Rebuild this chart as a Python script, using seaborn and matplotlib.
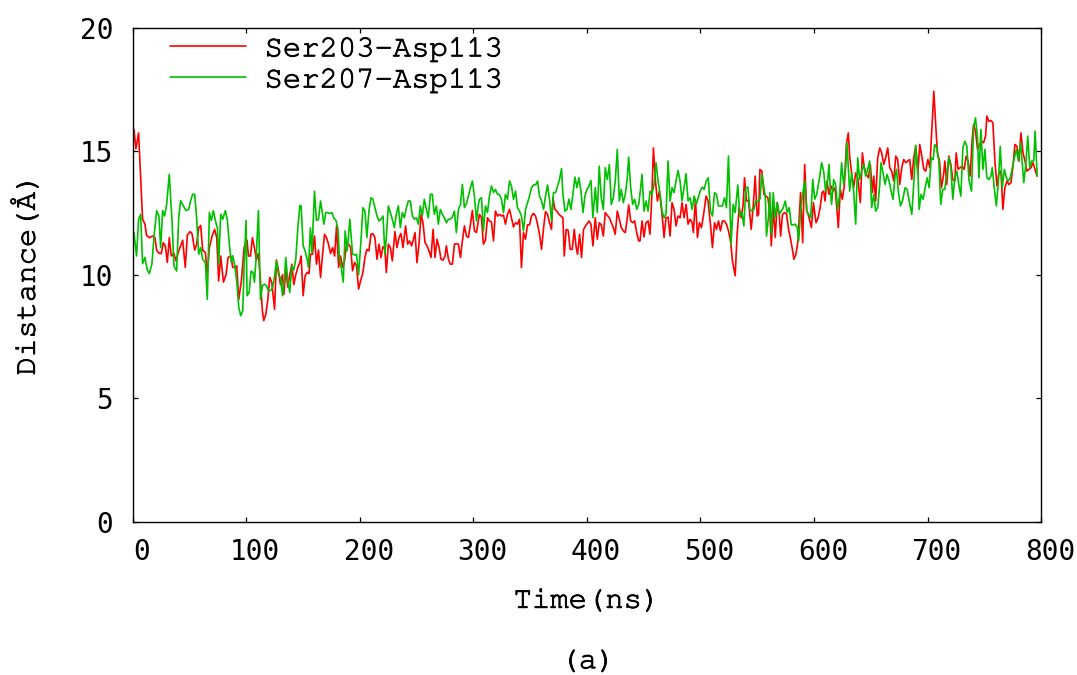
import numpy as np
import pandas as pd
import matplotlib
matplotlib.use("Agg")
import matplotlib.pyplot as plt
import matplotlib.transforms as mtransforms
import matplotlib.patheffects as pe
import seaborn as sns

# values (time in ns, distance in Angstrom)
red_time = [
    0, 1.2, 2.9, 5.3, 7.1, 8.8, 10.9, 12.3, 14.7, 17.6, 19.7, 21.2, 23.2, 25.3, 27.0, 28.8, 30.6, 32.3, 34.1, 36.4,
    38.2, 40.6, 42.3, 44.1, 46.4, 48.2, 50.6, 52.3, 54.7, 56.4, 58.2, 60.0, 61.7, 64.1, 65.8, 67.6, 70.0, 72.3, 74.1,
    75.8, 77.6, 80.0, 82.3, 84.1, 86.4, 88.2, 90.5, 91.7, 93.5, 95.8, 98.2,
    100.8, 102.0, 103.8, 105.5, 107.3, 109.0, 110.8, 112.6, 114.3, 115.5, 117.3, 119.0, 120.8, 122.6, 123.7, 125.0,
    126.7, 128.5, 130.2, 132.0, 133.2, 134.9, 136.7, 138.4, 140.2, 142.0, 143.7, 145.5, 147.3, 148.4, 150.2, 151.9,
    153.7, 155.4, 156.6, 158.4, 160.2, 161.9, 163.7, 165.5, 167.3, 169.0, 170.8, 172.5, 174.3, 176.1, 177.9, 179.6,
    181.4, 183.1, 184.9, 186.6, 188.4, 190.2, 192.0, 193.7, 195.5, 197.2, 199.0,
    201.1, 202.8, 204.6, 206.3, 208.1, 209.9, 211.6, 213.4, 215.2, 217.0, 218.7, 220.5, 222.2, 223.4, 225.2, 227.0,
    228.7, 231.0, 232.8, 234.6, 236.3, 238.1, 240.4, 242.2, 243.9, 245.7, 246.9, 248.7, 250.4, 252.2, 254.0, 255.7,
    257.5, 259.3, 261.0, 262.8, 264.6, 266.3, 268.1, 269.9, 271.6, 273.4, 275.1, 276.3, 278.1, 279.8, 281.6, 283.4,
    285.1, 286.9, 288.7, 290.4, 292.2, 294.0, 295.7, 297.5, 299.2, 301.0, 302.8, 304.5,
    305.4, 307.2, 308.9, 310.7, 312.5, 314.2, 316.0, 317.8, 319.5, 321.3, 323.0, 324.8, 326.6, 328.3, 330.1, 331.9,
    333.6, 335.4, 337.2, 338.9, 340.7, 342.4, 344.2, 346.0, 347.7, 349.5, 351.3, 353.0, 354.8, 356.6, 358.3, 360.1,
    361.9, 363.6, 365.4, 367.1, 368.9, 370.1, 371.8, 373.6, 375.4, 377.1, 378.9, 380.1, 381.8, 383.6, 385.3, 387.1,
    388.9, 390.6, 391.8, 393.6, 395.3, 397.1, 398.8, 400.0, 401.8, 403.6, 405.3,
    407.4, 409.2, 410.9, 412.7, 414.5, 416.2, 418.0, 419.8, 421.5, 423.3, 425.0, 426.8, 428.6, 430.3, 432.1, 433.9,
    435.6, 436.8, 438.6, 440.3, 442.1, 443.9, 445.6, 446.8, 448.6, 450.3, 452.1, 453.9, 455.6, 457.4, 458.6, 460.4,
    462.1, 463.9, 466.2, 468.0, 469.7, 471.5, 473.3, 475.0, 476.8, 478.5, 480.3, 482.1, 483.8, 485.6, 487.4, 489.1,
    490.9, 492.7, 493.8, 495.6, 497.4, 499.1, 500.9, 502.6, 505.0, 506.7,
    508.8, 510.6, 512.4, 514.1, 515.9, 517.6, 519.4, 521.2, 522.9, 524.7, 526.5, 528.2, 530.6, 532.3, 534.1, 535.9,
    537.6, 538.8, 540.6, 542.3, 544.7, 546.5, 548.2, 550.0, 551.2, 552.4, 554.1, 555.9, 557.7, 559.4, 561.2, 562.4,
    564.1, 565.9, 567.6, 569.4, 570.6, 572.3, 574.1, 575.9, 577.6, 579.4, 581.2, 582.3, 584.1, 585.9, 588.2, 590.0,
    591.8, 593.6, 595.3, 597.7, 599.5, 601.8, 603.6, 605.4, 607.1,
    608.5, 609.7, 611.4, 613.2, 614.9, 616.7, 618.5, 620.2, 621.4, 623.2, 624.9, 626.7, 628.5, 630.2, 631.4, 633.2,
    634.9, 636.7, 638.5, 640.8, 642.6, 644.3, 646.1, 647.9, 649.6, 651.4, 652.6, 654.3, 656.1, 657.9, 659.6, 661.4,
    663.1, 664.9, 666.7, 668.4, 670.2, 672.0, 673.7, 675.5, 677.3, 679.0, 680.8, 682.6, 684.3, 686.1, 687.8, 689.6,
    691.4, 693.1, 694.9, 696.7, 698.4, 700.2, 702.0, 703.7, 705.5,
    707.5, 708.7, 710.5, 712.2, 714.0, 715.2, 716.9, 718.7, 720.5, 722.2, 724.0, 725.2, 726.9, 728.7, 730.5, 732.2,
    734.0, 735.7, 737.5, 739.3, 740.5, 742.2, 744.0, 745.8, 747.5, 749.3, 751.1, 752.2, 754.0, 755.8, 757.5, 759.3,
    761.1, 762.8, 764.6, 766.3, 768.1, 769.9, 771.6, 773.4, 775.2, 776.9, 778.7, 780.5, 782.2, 784.0, 785.8, 787.5,
    789.3, 791.1, 792.8, 794.6, 796.4,
]
red_dist = [
    14.9, 15.9, 15.1, 15.75, 13.9, 12.25, 12.05, 11.6, 11.5, 11.57, 11.5, 11.0, 10.87, 10.86, 11.3, 11.17, 10.5, 11.5,
    10.76, 10.87, 10.56, 10.97, 11.17, 11.4, 10.3, 11.6, 11.75, 11.67, 11.0, 11.24, 11.9, 12.0, 11.0, 10.9, 10.0, 11.1,
    11.57, 11.84, 11.5, 9.75, 10.76, 9.7, 10.0, 10.7, 10.76, 10.3, 10.3, 10.36, 9.0, 9.75, 11.1,
    11.4, 10.76, 10.76, 11.5, 11.1, 10.6, 10.86, 9.75, 8.54, 8.14, 8.4, 8.95, 9.89, 9.69, 9.2, 8.6, 10.6, 10.16, 9.6,
    10.0, 9.2, 10.2, 9.5, 10.0, 10.43, 9.6, 10.0, 10.3, 10.5, 10.76, 9.15, 9.95, 10.1, 10.05, 10.83, 10.83, 11.57,
    10.43, 11.0, 9.89, 10.83, 11.64, 11.5, 11.24, 10.86, 11.1, 10.76, 11.98, 10.3, 10.76, 10.3, 10.56, 11.24, 11.24,
    11.1, 10.16, 10.5, 10.36, 9.42,
    9.82, 10.09, 10.70, 11.03, 10.97, 11.64, 11.67, 11.51, 10.63, 11.24, 10.70, 11.14, 11.03, 10.09, 11.24, 11.10,
    10.56, 11.75, 11.10, 11.51, 11.67, 11.10, 11.98, 11.24, 11.37, 11.17, 11.37, 11.71, 10.49, 11.24, 12.45, 12.11,
    11.30, 11.17, 10.97, 10.70, 11.84, 10.70, 11.44, 11.10, 10.63, 10.59, 10.76, 11.17, 10.63, 10.43, 10.43, 11.24,
    11.26, 11.24, 10.70, 11.37, 11.98, 11.57, 11.51, 12.05, 12.61, 11.78, 11.71, 12.18,
    12.45, 12.31, 11.24, 11.40, 12.31, 12.18, 12.14, 11.37, 12.58, 12.38, 12.45, 12.38, 12.42, 12.05, 12.45, 12.65,
    12.31, 11.94, 12.11, 12.05, 12.25, 10.29, 11.71, 11.44, 12.02, 12.02, 12.38, 12.49, 12.38, 12.05, 11.64, 11.03,
    11.91, 12.56, 12.45, 12.11, 11.84, 13.12, 12.65, 12.58, 12.45, 12.38, 12.31, 10.76, 11.84, 11.80, 11.03, 11.03,
    11.84, 11.10, 10.83, 11.64, 10.70, 11.84, 11.98, 12.05, 12.18, 12.05, 11.17,
    12.31, 11.44, 12.11, 12.02, 11.57, 12.52, 12.41, 12.31, 12.11, 11.91, 11.64, 12.58, 12.25, 11.91, 11.78, 11.71,
    12.31, 12.83, 12.18, 12.11, 12.18, 11.71, 11.37, 11.37, 12.18, 11.53, 12.11, 12.18, 11.64, 13.39, 15.14, 13.80,
    12.99, 13.39, 12.45, 11.51, 12.31, 12.34, 11.57, 12.92, 12.65, 11.98, 12.38, 12.31, 12.92, 12.31, 12.85, 12.05,
    12.25, 12.11, 11.71, 13.06, 11.51, 12.11, 11.91, 12.38, 13.19, 12.99,
    12.05, 11.10, 12.11, 11.84, 12.18, 11.78, 12.18, 12.18, 12.05, 11.78, 11.37, 10.56, 9.96, 11.64, 12.72, 12.31,
    12.85, 13.93, 12.99, 13.01, 11.84, 12.79, 14.00, 12.38, 12.45, 14.27, 14.20, 13.26, 13.19, 13.12, 12.45, 11.17,
    12.72, 11.51, 12.92, 12.45, 11.57, 12.45, 12.52, 12.45, 11.84, 11.44, 10.97, 10.63, 10.83, 11.37, 13.33, 11.30,
    14.47, 12.58, 12.38, 11.91, 12.92, 12.11, 12.31, 12.72, 13.33,
    13.39, 12.99, 13.80, 13.26, 13.60, 13.39, 13.53, 12.65, 11.91, 13.46, 13.06, 13.60, 15.28, 15.75, 14.81, 14.07,
    13.53, 14.13, 13.93, 12.92, 14.94, 14.34, 14.07, 13.93, 14.47, 13.33, 14.00, 12.99, 14.74, 15.14, 14.94, 14.47,
    14.74, 15.14, 14.34, 14.20, 13.80, 14.81, 14.67, 13.66, 14.34, 14.67, 14.54, 14.61, 14.67, 13.86, 14.74, 15.21,
    14.07, 15.28, 14.81, 14.27, 14.20, 14.67, 14.34, 15.82, 17.44,
    15.82, 14.94, 14.61, 13.53, 14.00, 14.61, 13.66, 14.81, 14.47, 13.86, 13.80, 14.94, 14.27, 14.34, 14.40, 14.27,
    14.81, 14.61, 14.00, 15.48, 16.09, 15.82, 15.08, 15.28, 15.41, 15.35, 15.62, 16.43, 16.22, 16.25, 16.16, 14.61,
    13.60, 14.13, 14.20, 12.65, 13.53, 13.80, 13.66, 13.73, 14.40, 15.28, 15.21, 14.61, 15.75, 14.94, 14.61, 14.20,
    14.27, 14.34, 14.54, 14.27, 14.00,
]

green_time = [
    0, 1.2, 3.5, 5.3, 7.1, 8.8, 10.9, 12.9, 14.7, 17.0, 18.8, 21.2, 23.2, 24.7, 26.5, 28.2, 30.0, 32.3, 34.7, 36.4,
    38.8, 40.6, 42.3, 44.7, 47.0, 49.4, 51.1, 52.9, 54.7, 56.4, 58.2, 60.0, 61.7, 64.1, 65.8, 67.6, 69.4, 71.1, 72.9,
    74.7, 75.8, 77.6, 79.4, 81.7, 83.5, 85.3, 87.0, 88.2, 90.0, 91.7, 93.5, 95.2, 97.0, 98.2, 99.9,
    100.8, 102.6, 104.4, 106.1, 107.3, 109.0, 110.8, 112.6, 114.3, 116.1, 117.9, 119.6, 121.4, 123.2, 124.9, 126.7,
    128.5, 130.2, 132.0, 133.7, 134.9, 136.7, 138.4, 140.2, 142.0, 143.7, 145.5, 147.3, 148.4, 150.2, 151.9, 153.7,
    154.9, 156.6, 157.9, 160.2, 161.9, 163.7, 165.5, 167.3, 168.4, 170.2, 172.0, 173.7, 175.5, 177.3, 179.1, 180.9,
    182.1, 183.9, 185.5, 187.2, 189.0, 191.3, 192.6, 193.7, 195.5, 197.2, 199.0,
    201.1, 202.8, 204.6, 206.3, 208.1, 209.9, 211.6, 213.4, 215.2, 217.0, 218.7, 220.5, 222.2, 223.4, 225.2, 227.0,
    228.7, 230.5, 232.2, 234.0, 235.8, 237.5, 239.3, 241.1, 242.8, 244.6, 246.3, 248.1, 249.9, 251.6, 253.4, 255.1,
    256.9, 258.7, 260.4, 262.2, 263.9, 265.7, 267.5, 269.2, 271.0, 272.8, 274.5, 276.3, 278.1, 279.8, 281.6, 283.4,
    285.1, 286.9, 288.7, 290.4, 292.2, 294.0, 295.7, 297.5, 299.2, 301.0, 302.8, 304.5,
    305.4, 307.2, 308.9, 310.7, 312.5, 314.2, 316.0, 317.8, 319.5, 321.3, 323.0, 324.8, 326.6, 328.3, 330.1, 331.9,
    333.6, 335.4, 337.2, 338.9, 340.7, 342.4, 344.2, 346.0, 347.7, 349.5, 351.3, 353.0, 354.8, 356.6, 358.3, 360.1,
    361.9, 363.6, 365.4, 367.1, 368.9, 370.6, 372.4, 374.2, 375.9, 377.7, 378.9, 380.7, 382.5, 384.2, 386.0, 387.7,
    389.5, 391.3, 393.0, 394.8, 396.6, 398.3, 400.1, 401.9, 403.6, 405.3,
    407.4, 409.2, 410.9, 412.7, 414.5, 416.2, 418.0, 419.8, 421.5, 423.3, 425.0, 426.8, 428.6, 430.3, 432.1, 433.9,
    435.6, 436.8, 438.6, 440.3, 442.1, 443.9, 445.6, 447.4, 448.6, 450.3, 452.1, 453.9, 455.6, 457.4, 459.2, 460.9,
    462.7, 464.5, 466.2, 468.0, 469.7, 471.5, 473.3, 475.0, 476.8, 478.5, 480.3, 482.1, 483.8, 485.6, 487.4, 489.1,
    490.9, 492.7, 494.5, 496.3, 498.0, 499.8, 501.6, 503.3, 505.1, 506.9,
    508.8, 510.6, 512.4, 514.1, 515.9, 517.6, 519.4, 521.2, 522.9, 524.7, 527.0, 528.8, 530.6, 532.9, 534.7, 536.5,
    538.2, 540.0, 541.8, 543.5, 545.3, 547.1, 548.8, 550.6, 552.4, 554.1, 555.9, 557.1, 558.2, 560.0, 561.2, 562.4,
    564.1, 565.9, 567.6, 569.4, 571.2, 572.9, 574.7, 576.5, 578.2, 580.0, 581.8, 583.5, 585.3, 586.5, 588.2, 590.0,
    591.8, 593.6, 595.3, 597.1, 598.9, 600.6, 602.4,
    604.9, 606.7, 608.5, 610.2, 612.0, 613.2, 614.3, 615.5, 617.3, 619.0, 620.8, 622.6, 624.3, 626.1, 627.9, 629.0,
    631.4, 633.2, 634.9, 636.7, 638.5, 640.2, 642.0, 643.8, 645.5, 647.3, 649.0, 650.8, 652.6, 654.3, 656.1, 657.9,
    659.0, 660.8, 662.6, 664.3, 666.1, 667.9, 669.6, 671.4, 672.6, 674.3, 676.1, 677.9, 680.2, 682.0, 683.8, 686.1,
    687.8, 689.6, 691.4, 692.6, 694.3, 696.1, 697.9, 699.6, 701.4, 703.2, 704.9,
    706.3, 708.1, 709.9, 711.6, 713.4, 715.2, 716.9, 718.7, 720.5, 722.2, 724.0, 725.8, 727.5, 729.3, 731.1, 732.8,
    734.6, 736.4, 738.7, 740.5, 742.2, 744.0, 745.2, 747.0, 748.7, 750.5, 752.2, 754.0, 755.8, 757.0, 758.7, 760.5,
    762.3, 764.0, 765.8, 767.6, 769.4, 771.1, 772.9, 774.7, 776.4, 778.2, 780.0, 781.8, 783.5, 784.7, 786.5, 788.2,
    790.0, 791.7, 793.5, 794.7, 796.5,
]
green_dist = [
    11.64, 11.71, 10.76, 12.25, 12.45, 10.45, 10.7, 10.2, 10.05, 10.43, 11.5, 12.6, 12.38, 11.1, 12.6, 12.38, 12.85,
    14.07, 12.2, 10.36, 10.15, 12.3, 13.0, 12.8, 12.6, 12.65, 13.0, 13.26, 13.26, 12.3, 10.83, 11.1, 10.63, 10.5, 9.0,
    12.52, 12.2, 12.6, 12.2, 11.9, 10.43, 12.45, 12.25, 12.6, 12.2, 11.17, 10.5, 10.77, 10.36, 9.75, 8.68, 8.34, 8.54,
    10.3, 12.2,
    9.15, 9.28, 10.15, 10.09, 9.7, 10.83, 12.6, 9.0, 9.55, 9.62, 9.55, 9.35, 9.35, 9.48, 9.89, 10.56, 10.0, 9.89, 9.15,
    9.89, 10.7, 9.75, 9.28, 10.36, 10.2, 10.63, 11.9, 12.8, 12.8, 11.17, 10.97, 10.63, 10.3, 11.9, 10.9, 13.39, 12.2,
    12.25, 12.99, 12.45, 12.05, 12.52, 12.52, 12.48, 12.52, 12.29, 12.2, 11.84, 10.7, 10.23, 9.7, 11.78, 10.97, 12.25,
    11.5, 10.83, 10.8, 10.83, 10.0,
    11.37, 12.72, 12.58, 11.51, 12.58, 13.12, 13.06, 12.72, 12.38, 12.18, 12.25, 12.38, 10.83, 11.51, 12.79, 12.52,
    12.25, 11.91, 12.45, 12.79, 11.91, 12.52, 12.31, 12.72, 12.99, 12.99, 12.38, 12.25, 12.31, 12.05, 12.79, 12.38,
    13.06, 12.65, 12.31, 13.26, 13.26, 12.45, 12.79, 12.05, 12.65, 12.45, 12.31, 12.11, 12.25, 12.25, 12.34, 12.58,
    11.71, 12.65, 12.85, 13.66, 12.72, 12.88, 13.19, 13.53, 13.80, 13.19, 12.18, 12.85,
    13.06, 13.12, 11.78, 12.79, 12.52, 13.19, 13.60, 13.33, 13.46, 13.26, 13.26, 13.06, 12.52, 13.26, 13.06, 13.80,
    13.60, 13.06, 13.39, 12.72, 12.58, 12.38, 11.78, 12.65, 12.92, 13.19, 13.53, 13.64, 13.64, 13.80, 13.19, 12.99,
    12.65, 13.19, 13.64, 13.06, 12.18, 13.33, 13.33, 13.60, 13.86, 14.30, 13.26, 12.58, 12.65, 13.06, 12.65, 13.26,
    13.96, 13.53, 13.93, 13.39, 12.52, 13.19, 13.46, 13.60, 13.82, 12.31,
    13.53, 12.52, 14.40, 13.12, 12.65, 14.34, 13.86, 14.47, 12.85, 13.12, 13.80, 15.08, 12.99, 13.46, 12.92, 13.26,
    13.93, 14.77, 13.53, 12.85, 13.06, 12.65, 12.85, 13.53, 14.07, 12.58, 12.99, 12.58, 13.39, 13.26, 13.66, 14.54,
    13.80, 13.26, 12.58, 12.31, 12.45, 14.61, 12.99, 13.53, 13.33, 13.80, 14.23, 13.80, 12.99, 13.53, 14.09, 12.99,
    13.12, 12.65, 13.19, 12.85, 13.12, 13.39, 13.55, 13.46, 13.80, 13.93,
    12.58, 12.38, 13.33, 13.26, 12.79, 12.79, 12.79, 13.12, 12.72, 14.81, 11.24, 12.85, 12.52, 13.64, 12.38, 12.52,
    11.98, 13.53, 13.55, 12.65, 12.58, 12.65, 12.99, 12.96, 13.06, 14.07, 13.53, 13.19, 11.57, 12.38, 13.33, 11.64,
    13.33, 12.31, 12.92, 12.45, 12.58, 12.72, 12.99, 12.52, 12.72, 12.02, 12.02, 12.05, 11.91, 11.37, 12.58, 13.26,
    13.80, 12.58, 12.45, 12.31, 13.86, 13.06, 13.26,
    13.93, 14.54, 14.20, 13.39, 13.80, 14.47, 13.53, 12.85, 13.86, 13.66, 12.65, 13.26, 14.54, 13.66, 14.34, 15.35,
    13.39, 14.13, 13.39, 12.05, 14.74, 13.86, 14.20, 14.47, 14.00, 14.27, 14.61, 12.72, 13.26, 12.58, 12.72, 13.66,
    14.54, 14.13, 13.66, 14.07, 13.80, 13.39, 13.06, 14.00, 14.27, 13.39, 12.79, 12.99, 13.53, 13.46, 12.99, 12.45,
    13.66, 15.25, 14.27, 12.65, 13.26, 13.06, 13.53, 13.93, 13.53, 14.74, 14.67,
    15.28, 15.14, 14.61, 12.85, 13.46, 13.46, 14.13, 14.74, 14.34, 13.06, 13.93, 14.20, 13.66, 13.19, 15.14, 15.41,
    15.21, 13.86, 13.39, 15.95, 16.36, 15.55, 13.93, 15.89, 14.27, 15.08, 13.93, 13.86, 14.00, 14.34, 13.53, 12.79,
    13.73, 15.21, 13.53, 14.27, 13.93, 13.80, 13.93, 14.34, 14.74, 15.08, 14.61, 15.35, 14.47, 13.73, 14.47, 15.62,
    14.34, 14.61, 14.61, 15.82, 14.00,
]

series_names = ["Ser203-Asp113", "Ser207-Asp113"]
series_colors = ["#ff0000", "#00c000"]
x_ticks = [0, 100, 200, 300, 400, 500, 600, 700, 800]
y_ticks = [0, 5, 10, 15, 20]

df = pd.concat([
    pd.DataFrame({"time": red_time, "dist": red_dist, "pair": series_names[0]}),
    pd.DataFrame({"time": green_time, "dist": green_dist, "pair": series_names[1]}),
], ignore_index=True)

sns.set_style("ticks")
# courier-like font if present, otherwise a monospace that is installed
label_font = ['Courier New', 'Courier', 'Nimbus Mono PS', 'FreeMono', 'Liberation Mono', 'DejaVu Sans Mono']
plt.rcParams['font.family'] = label_font
plt.rcParams['text.color'] = 'black'
plt.rcParams['axes.labelcolor'] = 'black'
plt.rcParams['xtick.color'] = 'black'
plt.rcParams['ytick.color'] = 'black'
tick_font = 'DejaVu Sans Mono'
# thin courier looks too light next to the gnuplot output, fatten it a bit
heavier = [pe.withStroke(linewidth=0.6, foreground='black')]

fig = plt.figure(figsize=(10.77, 6.75), dpi=100)
ax = fig.add_axes([0.1231, 0.2274, 0.8436, 0.7311])

sns.lineplot(data=df, x="time", y="dist", hue="pair", palette=series_colors,
             estimator=None, sort=False, linewidth=1.2, ax=ax)

ax.set_xlim(0, 800)
ax.set_ylim(0, 20)
ax.set_xticks(x_ticks)
ax.set_yticks(y_ticks)
for s in ax.spines.values():
    s.set_visible(True)
    s.set_linewidth(1.0)
    s.set_color("black")
ax.tick_params(direction="in", length=3.8, width=0.9, top=True, right=True, color="black")
ax.tick_params(axis="x", pad=12)
ax.tick_params(axis="y", pad=14)
for lab in ax.get_xticklabels() + ax.get_yticklabels():
    lab.set_fontfamily(tick_font)
    lab.set_fontsize(20)
    lab.set_color("black")
# gnuplot puts the x tick labels a bit to the right of the ticks
shift = mtransforms.ScaledTranslation(9 / 100, 0, fig.dpi_scale_trans)
for lab in ax.get_xticklabels():
    lab.set_transform(lab.get_transform() + shift)

xl = ax.set_xlabel("Time(ns)", fontsize=22, family=label_font, labelpad=17)
yl = ax.set_ylabel("Distance(Å)", fontsize=22, family=label_font, labelpad=28)
xl.set_path_effects(heavier)
yl.set_path_effects(heavier)

leg = ax.legend(loc="upper left", bbox_to_anchor=(0.041, 0.986), frameon=False,
                prop={"family": label_font, "size": 22}, handlelength=2.5, handletextpad=0.6,
                labelspacing=0.12, borderpad=0, borderaxespad=0)
for t in leg.get_texts():
    t.set_path_effects(heavier)

cap = fig.text(0.546, 0.019, "(a)", fontsize=22, family=label_font, ha="center", va="center")
cap.set_path_effects(heavier)

fig.savefig("out.png", dpi=100)
